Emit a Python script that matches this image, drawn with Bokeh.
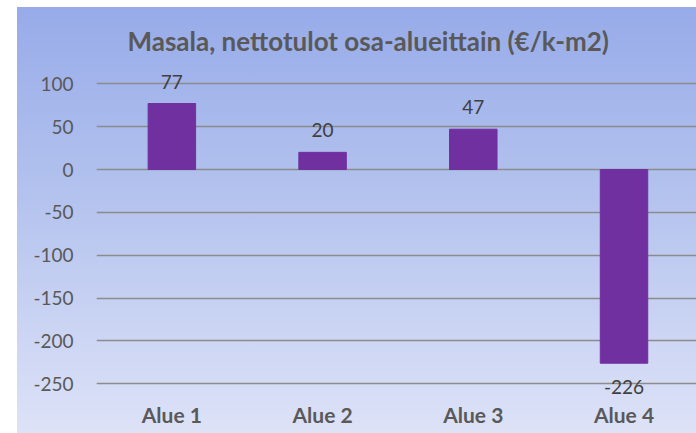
from bokeh.plotting import figure
from bokeh.models import ColumnDataSource, Range1d, FixedTicker, LabelSet
from bokeh.core.properties import value
from bokeh.embed import file_html
from bokeh.resources import INLINE

categories = ["Alue 1", "Alue 2", "Alue 3", "Alue 4"]
values = [77, 20, 47, -226]
y_ticks = [-250, -200, -150, -100, -50, 0, 50, 100]
title_text = "Masala, nettotulot osa-alueittain (€/k-m2)"

xs = [i + 0.5 for i in range(len(categories))]
src = ColumnDataSource(dict(
    x=xs,
    v=values,
    lab=[str(v) for v in values],
    off=[22 if v >= 0 else -24 for v in values],
))

p = figure(width=696, height=433, output_backend="svg", toolbar_location=None,
           x_range=Range1d(0, 3.981), y_range=Range1d(-269.5, 133),
           min_border_left=96, min_border_right=0, min_border_top=55, min_border_bottom=33,
           title=title_text)
p.styles = {
    "background-color": "white",
    "background-image": "linear-gradient(to bottom, #97abe9 0%, #b4c3ee 45%, #dde2f7 100%)",
    "background-repeat": "no-repeat",
    "background-position": "17px 7px",
    "background-size": "679px 426px",
}
p.border_fill_alpha = 0
p.background_fill_alpha = 0
p.outline_line_color = None

p.title.align = "left"
p.title.offset = 31
p.title.text_font = "Lato"
p.title.text_font_style = "bold"
p.title.text_font_size = "26px"
p.title.text_color = "#595959"
p.title.standoff = -2

p.vbar(x="x", top="v", bottom=0, width=0.315, source=src, color="#7030A0")

labels = LabelSet(x="x", y="v", text="lab", y_offset="off", source=src,
                  text_align="center", text_baseline="middle",
                  text_font=value("Lato"), text_font_size=value("19px"),
                  text_color=value("#404040"))
p.add_layout(labels)

p.yaxis.ticker = FixedTicker(ticks=y_ticks)
p.yaxis.major_label_overrides = {t: str(t) for t in y_ticks}
p.yaxis.axis_line_color = None
p.yaxis.major_tick_line_color = None
p.yaxis.major_tick_out = 0
p.yaxis.major_tick_in = 0
p.yaxis.minor_tick_line_color = None
p.yaxis.minor_tick_out = 0
p.yaxis.major_label_standoff = 23
p.yaxis.major_label_text_font = "Lato"
p.yaxis.major_label_text_font_size = "19px"
p.yaxis.major_label_text_color = "#595959"

p.xaxis.ticker = FixedTicker(ticks=xs)
p.xaxis.major_label_overrides = {x: c for x, c in zip(xs, categories)}
p.xaxis.axis_line_color = None
p.xaxis.major_tick_line_color = None
p.xaxis.major_tick_out = 0
p.xaxis.major_tick_in = 0
p.xaxis.minor_tick_line_color = None
p.xaxis.minor_tick_out = 0
p.xaxis.major_label_standoff = 1
p.xaxis.major_label_text_font = "Lato"
p.xaxis.major_label_text_font_style = "bold"
p.xaxis.major_label_text_font_size = "21px"
p.xaxis.major_label_text_color = "#595959"

p.xgrid.grid_line_color = None
p.ygrid.ticker = FixedTicker(ticks=y_ticks)
p.ygrid.grid_line_color = "#8c8c8c"
p.ygrid.grid_line_width = 1.5

open("out.html", "w").write(file_html(p, INLINE))
